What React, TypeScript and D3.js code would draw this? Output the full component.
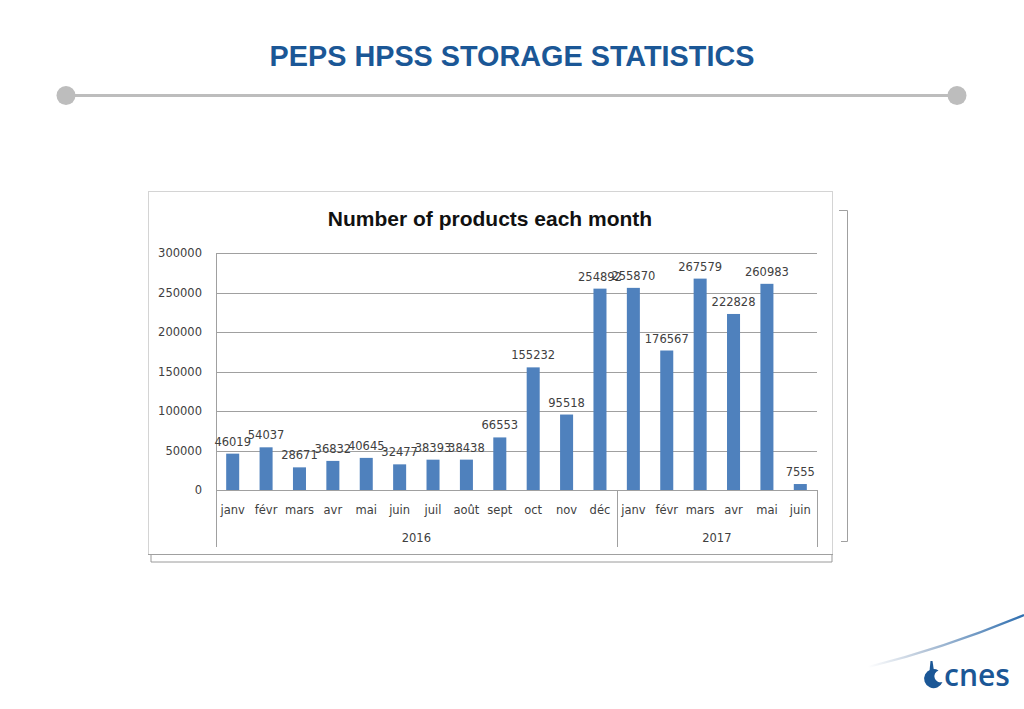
import * as d3 from 'd3'

// chart data
const months = ['janv', 'févr', 'mars', 'avr', 'mai', 'juin', 'juil', 'août', 'sept', 'oct', 'nov', 'déc',
  'janv', 'févr', 'mars', 'avr', 'mai', 'juin']
const years = ['2016', '2016', '2016', '2016', '2016', '2016', '2016', '2016', '2016', '2016', '2016', '2016',
  '2017', '2017', '2017', '2017', '2017', '2017']
const products = [46019, 54037, 28671, 36832, 40645, 32477, 38393, 38438, 66553, 155232, 95518, 254892,
  255870, 176567, 267579, 222828, 260983, 7555]
const yTicks = [0, 50000, 100000, 150000, 200000, 250000, 300000]

const slideTitle = 'PEPS HPSS STORAGE STATISTICS'
const chartTitle = 'Number of products each month'

const W = 1024
const H = 709

// plot area (px)
const plotL = 216
const plotR = 817
const plotT = 253
const plotB = 490
const axisBottom = 547

const labelFont = '"DejaVu Sans", Verdana, sans-serif'
const textGrey = '#404040'
const gridGrey = '#a0a0a0'
const barBlue = '#4f81bd'
const cnesBlue = '#1b5796'

export default function App() {
  const idx = products.map((_, i) => i)

  const x = d3.scaleBand<number>()
    .domain(idx)
    .range([plotL, plotR])
    .paddingInner(0.61)
    .paddingOuter(0.305)

  const y = d3.scaleLinear()
    .domain([0, 300000])
    .range([plotB, plotT])

  const step = x.step()
  const bandLeft = (i: number) => (x(i) as number) - step * x.paddingInner() / 2

  // group consecutive months by year for the second axis row
  const groups = d3.groups(idx, i => years[i]).map(([year, items]) => ({
    year,
    first: items[0],
    last: items[items.length - 1],
  }))

  return (
    <svg width={W} height={H} style={{ position: 'fixed', left: 0, top: 0, background: '#fff' }}>
      <defs>
        <linearGradient id="swoosh" x1="0" x2="1" y1="0" y2="0">
          <stop offset="0" stopColor="#ffffff" />
          <stop offset="0.35" stopColor="#b9c8da" />
          <stop offset="1" stopColor="#2f6fb0" />
        </linearGradient>
      </defs>

      {/* slide header */}
      <text x={512} y={66} textAnchor="middle" fontFamily='"Liberation Sans", Arial, sans-serif'
        fontWeight="bold" fontSize={28.8} fill={cnesBlue}>{slideTitle}</text>
      <line x1={66} x2={957} y1={95.5} y2={95.5} stroke="#bdbdbd" strokeWidth={3} />
      <circle cx={66} cy={95.5} r={9.5} fill="#bdbdbd" />
      <circle cx={957} cy={95.5} r={9.5} fill="#bdbdbd" />

      {/* chart frame, with its shadow and the side bracket */}
      <path d="M151,554 V562 H832 V554" fill="none" stroke="#9a9a9a" />
      <rect x={148.5} y={191.5} width={684} height={363} fill="#fff" stroke="#d4d4d4" />
      <line x1={148} x2={833} y1={554.5} y2={554.5} stroke="#a0a0a0" />
      <path d="M839,210.5 H847.5 V541.5 H841" fill="none" stroke="#a0a0a0" />

      <text x={490} y={226} textAnchor="middle" fontFamily='"Liberation Sans", Arial, sans-serif'
        fontWeight="bold" fontSize={21} fill="#111">{chartTitle}</text>

      {/* gridlines + y tick labels */}
      {yTicks.map(t => (
        <g key={t}>
          <line x1={plotL} x2={plotR} y1={Math.round(y(t)) + 0.5} y2={Math.round(y(t)) + 0.5}
            stroke={gridGrey} />
          <text x={202} y={y(t)} dy="0.35em" textAnchor="end" fontFamily={labelFont}
            fontSize={11.5} fill={textGrey}>{t}</text>
        </g>
      ))}

      {/* y axis line */}
      <line x1={plotL + 0.5} x2={plotL + 0.5} y1={plotT} y2={axisBottom} stroke={gridGrey} />

      {/* bars */}
      {idx.map(i => (
        <rect key={i} x={x(i)} y={y(products[i])} width={x.bandwidth()}
          height={plotB - y(products[i])} fill={barBlue} />
      ))}

      {/* value labels */}
      {idx.map(i => (
        <text key={i} x={(x(i) as number) + x.bandwidth() / 2} y={y(products[i]) - 8}
          textAnchor="middle" fontFamily={labelFont} fontSize={11.5} fill={textGrey}>
          {products[i]}
        </text>
      ))}

      {/* month labels */}
      {idx.map(i => (
        <text key={i} x={(x(i) as number) + x.bandwidth() / 2} y={514}
          textAnchor="middle" fontFamily={labelFont} fontSize={11.5} fill={textGrey}>
          {months[i]}
        </text>
      ))}

      {/* year groups */}
      {groups.map((g, k) => {
        const left = bandLeft(g.first)
        const right = bandLeft(g.last) + step
        return (
          <g key={g.year}>
            {k > 0 && (
              <line x1={Math.round(left) + 0.5} x2={Math.round(left) + 0.5} y1={plotB} y2={axisBottom}
                stroke={gridGrey} />
            )}
            {k === groups.length - 1 && (
              <line x1={Math.round(right) + 0.5} x2={Math.round(right) + 0.5} y1={plotB} y2={axisBottom}
                stroke={gridGrey} />
            )}
            <text x={(left + right) / 2} y={542} textAnchor="middle" fontFamily={labelFont}
              fontSize={11.5} fill={textGrey}>{g.year}</text>
          </g>
        )
      })}

      {/* cnes logo */}
      <path d="M868,667 Q945,648 1024,615" fill="none" stroke="url(#swoosh)" strokeWidth={2.2} />
      <path d="M930.5,661 L932.5,661 L934,671 L929.5,671 Z" fill={cnesBlue} />
      <path d="M942.5,682 A9.5,9.5 0 1 1 938.5,670.5 A6,6 0 1 0 942.5,682 Z" fill={cnesBlue} />
      <text x={944} y={686} fontFamily='"Open Sans", sans-serif' fontWeight={600} fontSize={30}
        fill={cnesBlue}>cnes</text>
    </svg>
  )
}
